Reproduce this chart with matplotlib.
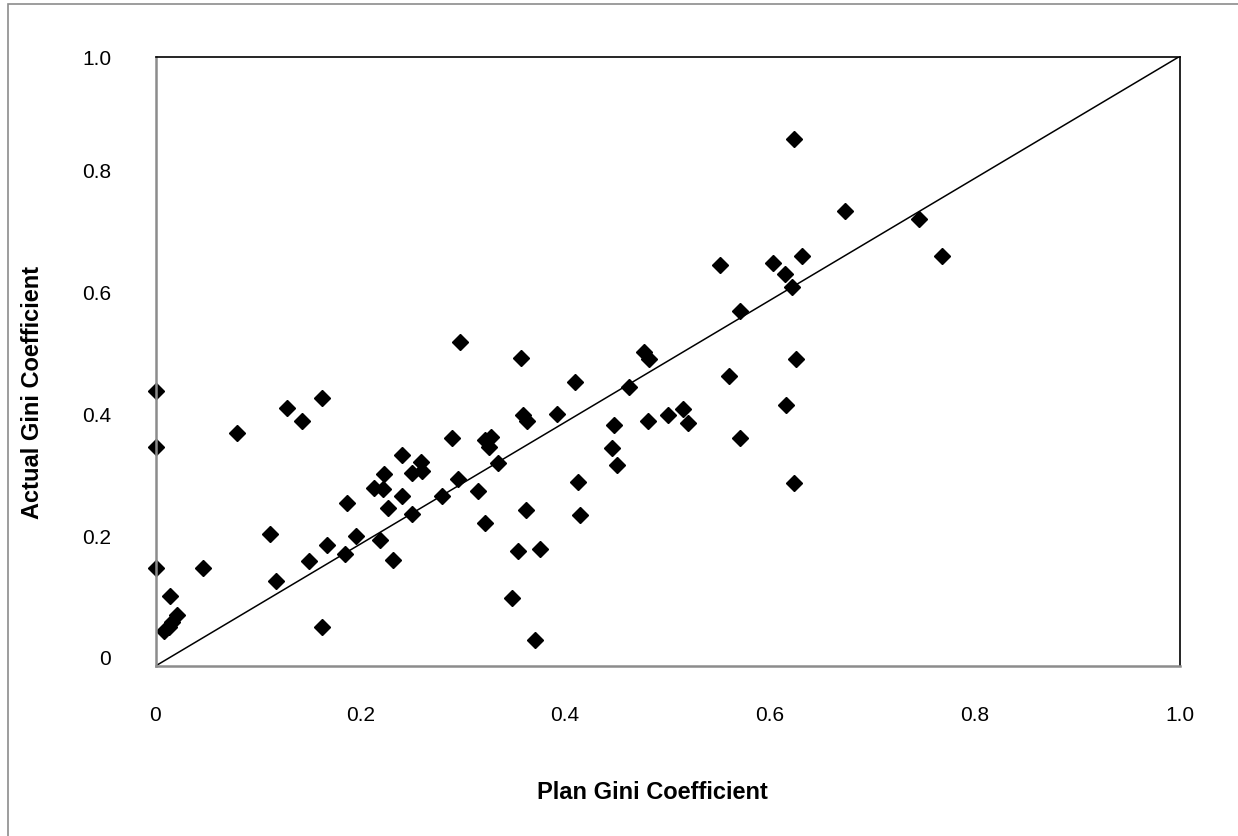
import matplotlib
matplotlib.use("Agg")
import matplotlib.pyplot as plt
from matplotlib.patches import Rectangle
from matplotlib.transforms import ScaledTranslation

plt.rcParams['font.family'] = ['Liberation Sans', 'DejaVu Sans']

# plan vs actual gini coefficient
plan_gini = [0.128, 0.163, 0.143, 0.080, 0.000, 0.241, 0.259, 0.223, 0.250, 0.260,
             0.213, 0.222, 0.241, 0.187, 0.227, 0.250, 0.280, 0.112, 0.167, 0.196,
             0.219, 0.150, 0.185, 0.232, 0.000, 0.046, 0.118, 0.014, 0.021, 0.016,
             0.008, 0.013, 0.163, 0.000,
             0.297, 0.357, 0.410, 0.477, 0.482, 0.462, 0.359, 0.363, 0.392, 0.448,
             0.481, 0.500, 0.515, 0.290, 0.322, 0.328, 0.326, 0.446, 0.451, 0.334,
             0.295, 0.315, 0.413, 0.362, 0.415, 0.322, 0.354, 0.375, 0.348, 0.371,
             0.624, 0.673, 0.746, 0.768, 0.551, 0.603, 0.631, 0.615, 0.622, 0.571,
             0.625, 0.560, 0.520, 0.616, 0.571, 0.624]
actual_gini = [0.423, 0.439, 0.402, 0.382, 0.360, 0.346, 0.334, 0.315, 0.317, 0.320,
               0.292, 0.290, 0.279, 0.267, 0.259, 0.249, 0.279, 0.217, 0.199, 0.214,
               0.206, 0.172, 0.184, 0.174, 0.160, 0.160, 0.140, 0.115, 0.084, 0.072,
               0.058, 0.064, 0.064, 0.451,
               0.531, 0.505, 0.466, 0.515, 0.504, 0.457, 0.411, 0.402, 0.413, 0.396,
               0.402, 0.411, 0.421, 0.374, 0.371, 0.376, 0.359, 0.358, 0.330, 0.333,
               0.307, 0.287, 0.302, 0.256, 0.248, 0.234, 0.188, 0.192, 0.112, 0.043,
               0.864, 0.746, 0.733, 0.672, 0.658, 0.662, 0.672, 0.643, 0.622, 0.583,
               0.503, 0.476, 0.398, 0.428, 0.374, 0.300]

ticks = [0, 0.2, 0.4, 0.6, 0.8, 1.0]
tick_labels = ['0', '0.2', '0.4', '0.6', '0.8', '1.0']

fig = plt.figure(figsize=(12.38, 8.37), dpi=100)
ax = fig.add_axes([155.5 / 1238, 170 / 837, 1024 / 1238, 609.5 / 837])

# outer chart border
fig.patches.append(Rectangle((8 / 1238, -0.05), 1.2, 1 - 5 / 837 + 0.05,
                             transform=fig.transFigure, fill=False,
                             edgecolor='#8c8c8c', linewidth=1.2))

ax.plot([0, 1], [0, 1], color='black', linewidth=1.1)
ax.plot(plan_gini, actual_gini, linestyle='none', marker='D', markersize=8,
        color='black', clip_on=False)

ax.set_xlim(0, 1)
ax.set_ylim(0, 1)
ax.set_xticks(ticks, tick_labels)
ax.set_yticks(ticks, tick_labels)
ax.tick_params(length=0, labelsize=15)
ax.tick_params(axis='x', pad=28)
ax.tick_params(axis='y', pad=32)

for side in ['left', 'bottom']:
    ax.spines[side].set_color('#8c8c8c')
    ax.spines[side].set_linewidth(1.8)
for side in ['top', 'right']:
    ax.spines[side].set_color('black')
    ax.spines[side].set_linewidth(1.2)

# y labels sit a bit above their gridline in the original
shift = ScaledTranslation(0, 9 / 100, fig.dpi_scale_trans)
for lab in ax.yaxis.get_majorticklabels()[:-1]:
    lab.set_transform(lab.get_transform() + shift)

fig.text(652 / 1238, 1 - 793 / 837, 'Plan Gini Coefficient', ha='center', va='center',
         fontsize=17, fontweight='bold')
fig.text(33 / 1238, 1 - 392 / 837, 'Actual Gini Coefficient', ha='center', va='center',
         rotation=90, fontsize=17, fontweight='bold')

fig.savefig('out.png', dpi=100)
